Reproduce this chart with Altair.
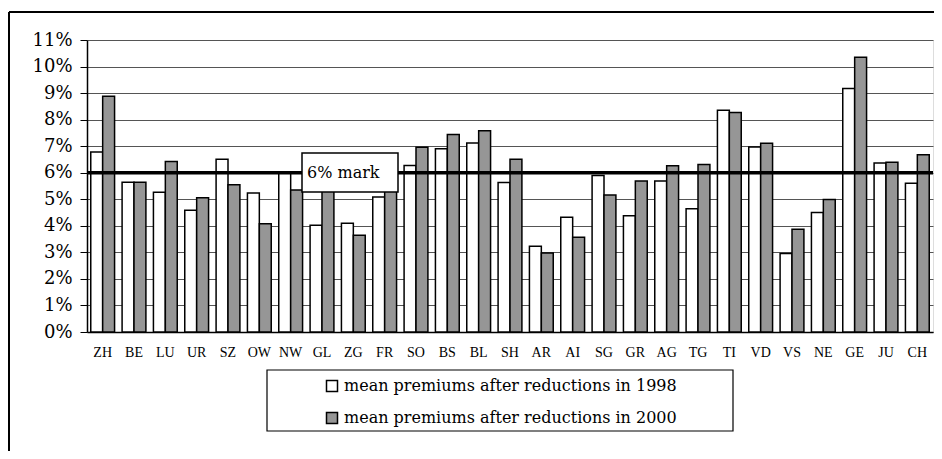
import altair as alt
import pandas as pd

cantons = ["ZH", "BE", "LU", "UR", "SZ", "OW", "NW", "GL", "ZG", "FR", "SO", "BS", "BL",
           "SH", "AR", "AI", "SG", "GR", "AG", "TG", "TI", "VD", "VS", "NE", "GE", "JU", "CH"]
v1998 = [6.78, 5.64, 5.26, 4.59, 6.51, 5.24, 6.02, 4.02, 4.10, 5.09, 6.27, 6.90, 7.12,
         5.63, 3.23, 4.32, 5.90, 4.38, 5.69, 4.64, 8.35, 6.97, 2.96, 4.50, 9.17, 6.37, 5.60]
v2000 = [8.88, 5.64, 6.42, 5.06, 5.55, 4.08, 5.35, 5.70, 3.64, 5.60, 6.96, 7.44, 7.58,
         6.51, 2.98, 3.57, 5.16, 5.69, 6.26, 6.31, 8.27, 7.11, 3.87, 4.99, 10.35, 6.39, 6.68]
series = ["mean premiums after reductions in 1998", "mean premiums after reductions in 2000"]
colors = ["#ffffff", "#969696"]
y_ticks = list(range(0, 12))
mark_level = 6
mark_label = "6% mark"

rows = []
for i, c in enumerate(cantons):
    rows.append({"canton": c, "series": series[0], "value": v1998[i]})
    rows.append({"canton": c, "series": series[1], "value": v2000[i]})
df = pd.DataFrame(rows)

W, H = 846, 292
serif = "DejaVu Serif"

yscale = alt.Scale(domain=[0, 11], nice=False)
yaxis = alt.Axis(values=y_ticks, tickCount=12, title=None,
                 labelExpr="datum.value + '%'",
                 labelOverlap=False, labelFlush=False,
                 labelFont=serif, labelFontSize=18, labelColor="black",
                 tickSize=7, tickColor="black", labelPadding=8,
                 domainColor="black", domainWidth=1.5,
                 grid=True, gridColor="#555555", gridWidth=1)

bars = alt.Chart(df).mark_bar(stroke="black", strokeWidth=1.5).encode(
    x=alt.X("canton:N", sort=cantons, title=None,
            scale=alt.Scale(paddingInner=0.24, paddingOuter=0.12),
            axis=alt.Axis(labelAngle=0, ticks=False, tickSize=0, labelPadding=13,
                          labelFont="Liberation Serif", labelFontSize=14, labelColor="black",
                          domainColor="black", domainWidth=1.5, grid=False)),
    xOffset=alt.XOffset("series:N", sort=series, scale=alt.Scale(paddingInner=0, paddingOuter=0)),
    y=alt.Y("value:Q", title=None, scale=yscale, axis=yaxis),
    color=alt.Color("series:N", sort=series,
                    scale=alt.Scale(domain=series, range=colors),
                    legend=alt.Legend(title=None, orient="none", legendX=237, legendY=338,
                                      symbolType="square", symbolSize=121,
                                      symbolStrokeColor="black", symbolStrokeWidth=1.5,
                                      labelFont=serif, labelFontSize=16, labelColor="black",
                                      labelLimit=0, labelOffset=4, rowPadding=14, padding=0)),
)

rule = alt.Chart(pd.DataFrame({"value": [mark_level]})).mark_rule(
    color="black", strokeWidth=3.5).encode(y=alt.Y("value:Q", title=None, scale=yscale, axis=yaxis))

box = alt.Chart(pd.DataFrame({"value": [mark_level]})).mark_rect(
    fill="white", stroke="black", strokeWidth=1.5).encode(
    x=alt.value(215), x2=alt.value(311), y=alt.value(113), y2=alt.value(152))

label = alt.Chart(pd.DataFrame({"value": [mark_level], "t": [mark_label]})).mark_text(
    align="left", baseline="middle", font=serif, fontSize=16, color="black").encode(
    x=alt.value(220), y=alt.Y("value:Q", title=None, scale=yscale, axis=yaxis), text="t:N")

legend_box = alt.Chart(pd.DataFrame({"v": [0]})).mark_rect(
    fillOpacity=0, stroke="black", strokeWidth=1.2).encode(
    x=alt.value(180), x2=alt.value(646), y=alt.value(330), y2=alt.value(391))

frame_left = alt.Chart(pd.DataFrame({"v": [0]})).mark_rule(
    color="black", strokeWidth=2).encode(x=alt.value(-78), y=alt.value(-28), y2=alt.value(411))
frame_top = alt.Chart(pd.DataFrame({"v": [0]})).mark_rule(
    color="black", strokeWidth=2).encode(x=alt.value(-78), x2=alt.value(W + 1), y=alt.value(-28))

chart = alt.layer(bars, rule, box, label, legend_box, frame_left, frame_top).properties(
    width=W, height=H,
    autosize=alt.AutoSizeParams(type="none"),
    padding={"left": 79, "top": 32, "right": 1, "bottom": 119},
).configure_view(stroke="#999999", strokeWidth=1.5).configure(background="white")

chart.save("out.html", embed_options={"renderer": "svg", "actions": False})
